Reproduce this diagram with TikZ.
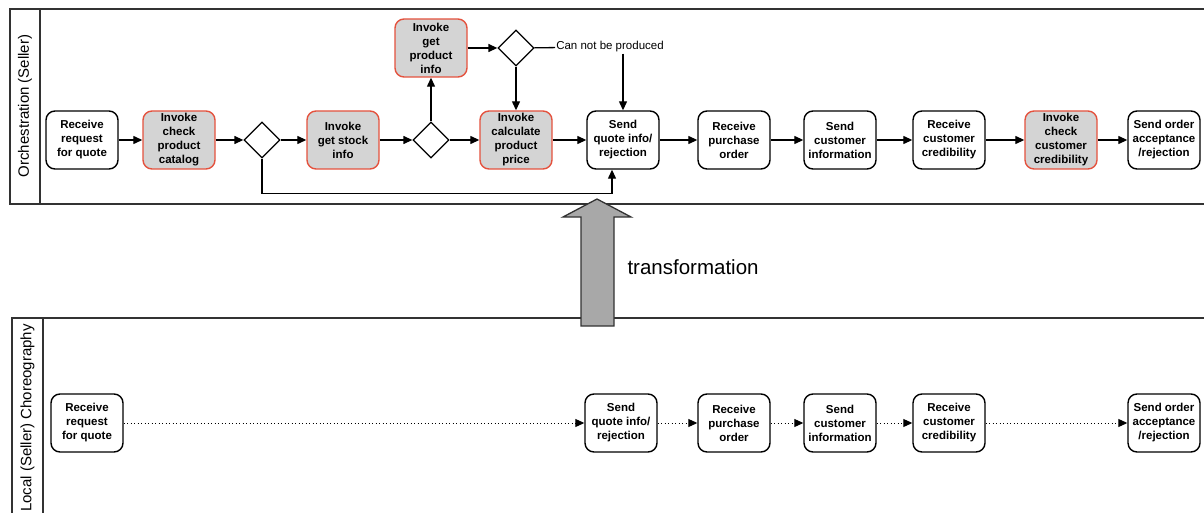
\documentclass[tikz,border=0pt]{standalone}
\usepackage{fontspec}
\setmainfont{Liberation Sans}
\usetikzlibrary{shapes.geometric,arrows.meta}

\definecolor{invokered}{RGB}{228,82,62}
\definecolor{invokegray}{RGB}{212,212,212}
\definecolor{arrowgray}{RGB}{168,168,168}
\definecolor{lanegray}{RGB}{50,50,50}

\begin{document}
\begin{tikzpicture}[->,>={Triangle[length=9pt,width=8pt]},x=1pt,y=-1pt,
                task/.style={rectangle,rounded corners=9pt,draw,line width=1.4pt,fill=white,
                  minimum width=72pt,minimum height=58pt,inner sep=1pt,align=center,
                  font=\fontsize{11.5}{14}\selectfont\bfseries},
                invoke/.style={task,draw=invokered,fill=invokegray},
                gate/.style={diamond,draw,line width=1.3pt,fill=white,minimum size=36pt,inner sep=0pt},
                lane/.style={-,draw=lanegray,line width=1.6pt},
                lane label/.style={rotate=90,font=\fontsize{15}{18}\selectfont},
                flow/.style={->,line width=1.3pt},
                msg/.style={->,line width=0.9pt,dash pattern=on 0.9pt off 2.6pt}]
  \useasboundingbox (0,0) rectangle (1204,513);
  \clip (0,0) rectangle (1204,513);

  % swimlanes
  \draw[lane] (1210,9) -- (10,9) -- (10,204) -- (1210,204);
  \draw[lane] (40,9) -- (40,204);
  \draw[lane] (1210,318) -- (12,318) -- (12,520);
  \draw[lane] (43,318) -- (43,520);
  \node[lane label] (orch) at (25,106) {Orchestration (Seller)};
  \node[lane label] (chor) at (27.5,418) {Local (Seller) Choreography};

  % orchestration
  \node[task] (o1) at (82,140) {Receive\\request\\for quote};
  \node[invoke] (o2) at (179,140) {Invoke\\check\\product\\catalog};
  \node[gate] (o3) at (262,140) {};
  \node[invoke] (o4) at (343,140) {Invoke\\get stock\\info};
  \node[gate] (o5) at (431,140) {};
  \node[invoke] (o6) at (431,48) {Invoke\\get\\product\\info};
  \node[gate] (o7) at (516,48) {};
  \node[invoke] (o8) at (516,140) {Invoke\\calculate\\product\\price};
  \node[task] (o9) at (623,140) {Send\\quote info/\\rejection};
  \node[task] (o10) at (734,140) {Receive\\purchase\\order};
  \node[task] (o11) at (840,140) {Send\\customer\\information};
  \node[task] (o12) at (949,140) {Receive\\customer\\credibility};
  \node[invoke] (o13) at (1061,140) {Invoke\\check\\customer\\credibility};
  \node[task] (o14) at (1164,140) {Send order\\acceptance\\/rejection};
  \node[font=\fontsize{11.5}{13}\selectfont,inner sep=1pt] (nop) at (610,47) {Can not be produced};

  \path[flow]
    (o1) edge (o2)
    (o2) edge (o3)
    (o3) edge (o4)
    (o4) edge (o5)
    (o5) edge (o8)
    (o5) edge (o6)
    (o6) edge (o7)
    (o7) edge (o8)
    (o7) edge[-] (nop)
    (nop.south -| o9) edge (o9)
    (o8) edge (o9)
    (o9) edge (o10)
    (o10) edge (o11)
    (o11) edge (o12)
    (o12) edge (o13)
    (o13) edge (o14)
  ;
  \draw[flow] (o3.south) -- ++(0,35) -| ([xshift=-11pt]o9.south);

  % choreography
  \node[task] (c1) at (87,423) {Receive\\request\\for quote};
  \node[task] (c2) at (621,423) {Send\\quote info/\\rejection};
  \node[task] (c3) at (734,423) {Receive\\purchase\\order};
  \node[task] (c4) at (840,423) {Send\\customer\\information};
  \node[task] (c5) at (949,423) {Receive\\customer\\credibility};
  \node[task] (c6) at (1164,423) {Send order\\acceptance\\/rejection};

  \path[msg]
    (c1) edge (c2)
    (c2) edge (c3)
    (c3) edge (c4)
    (c4) edge (c5)
    (c5) edge (c6)
  ;

  % transformation
  \draw[-,line width=1.3pt,draw=lanegray,fill=arrowgray] (581,326) -- (581,217) -- (563,217)
    -- (597,199) -- (631,217) -- (614,217) -- (614,326) -- cycle;
  \node[font=\fontsize{20.5}{24}\selectfont,anchor=west] (trans) at (624,267) {transformation};
\end{tikzpicture}
\end{document}
